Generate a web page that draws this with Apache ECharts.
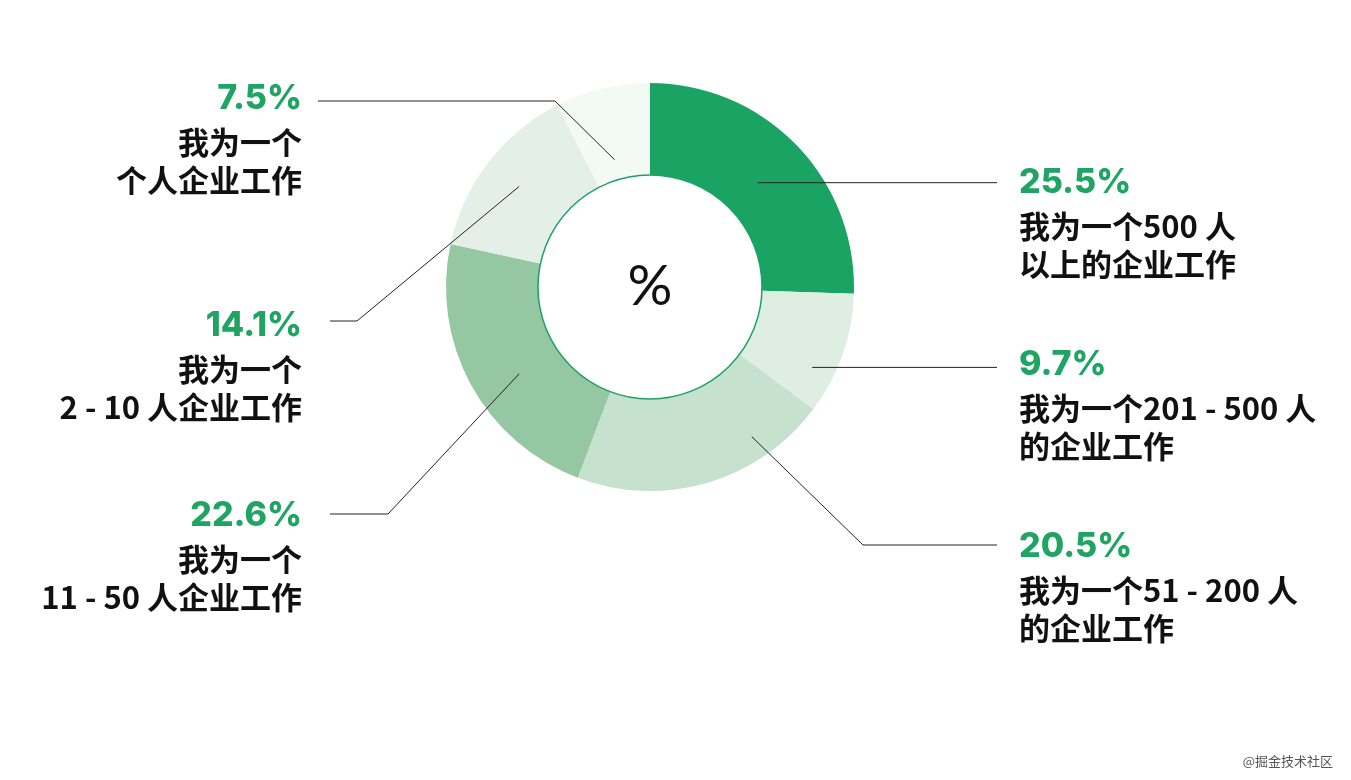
<!DOCTYPE html>
<html>
<head>
<meta charset="utf-8">
<script src="https://cdn.jsdelivr.net/npm/echarts@6/dist/echarts.min.js"></script>
<style>
  html, body { margin: 0; padding: 0; background: #fff; }
  #chart { width: 1351px; height: 780px; }
</style>
</head>
<body>
<div id="chart"></div>
<script>
// 数据
const categories = [
  '我为一个500 人\n以上的企业工作',
  '我为一个201 - 500 人\n的企业工作',
  '我为一个51 - 200 人\n的企业工作',
  '我为一个\n11 - 50 人企业工作',
  '我为一个\n2 - 10 人企业工作',
  '我为一个\n个人企业工作'
];
const values = [25.5, 9.7, 20.5, 22.6, 14.1, 7.5];
const sliceColors = ['#1ba364', '#deeee3', '#c6e1cd', '#95c7a2', '#e4f0e7', '#f3f9f5'];

// 引导线布局（像素）
const CX = 650, CY = 287, R_IN = 112, R_OUT = 204;
const anchorR = [150, 181, 181, 157, 165, 132];
const anchorShift = [0, 7, -18, -5, 0, -2];
const elbows = [null, null, [863, 545], [388, 514], [357, 321], [555, 101]];
const lineEndX = [997, 997, 997, 330, 330, 318];
const labelMidY = [183, 365, 547, 516, 326, 99];

const total = values.reduce((a, b) => a + b, 0);

function anchorPoint(i) {
  let cum = 0;
  for (let k = 0; k < i; k++) cum += values[k];
  const deg = (cum + values[i] / 2) / total * 360 + anchorShift[i];
  const rad = deg * Math.PI / 180;
  return [CX + anchorR[i] * Math.sin(rad), CY - anchorR[i] * Math.cos(rad)];
}

const chart = echarts.init(document.getElementById('chart'));

const pctFont = { fontFamily: 'Inter', fontWeight: 800, fontSize: 34, color: '#1fa463', lineHeight: 48 };
const txtFont = { fontFamily: 'Noto Sans CJK SC', fontWeight: 'bold', fontSize: 31, color: '#111', lineHeight: 38 };

const pieData = values.map((v, i) => ({
  name: categories[i],
  value: v,
  itemStyle: { color: sliceColors[i] }
}));

const option = {
  backgroundColor: '#fff',
  animation: false,
  graphic: [{
    type: 'text',
    right: 18,
    bottom: 12,
    style: { text: '@掘金技术社区', fontSize: 13, fill: '#555', fontFamily: 'Noto Sans CJK SC' }
  }],
  series: [
    // 环形
    {
      type: 'pie',
      center: [CX, CY],
      radius: [R_IN, R_OUT],
      startAngle: 90,
      silent: true,
      z: 1,
      data: pieData,
      label: { show: false },
      labelLine: { show: false }
    },
    // 透明层，只负责标签和引导线（画在环形上面）
    {
      type: 'pie',
      center: [CX, CY],
      radius: [R_IN, R_OUT],
      startAngle: 90,
      silent: true,
      z: 3,
      avoidLabelOverlap: false,
      data: pieData.map(d => ({ name: d.name, value: d.value, itemStyle: { color: 'rgba(0,0,0,0)' } })),
      label: {
        show: true,
        position: 'outside',
        formatter: p => {
          const side = p.dataIndex < 3 ? 'l' : 'r';
          const lines = p.name.split('\n');
          return '{p' + side + '|' + p.value + '%}\n{t' + side + '|' + lines[0] + '}\n{t' + side + '|' + lines[1] + '}';
        },
        rich: {
          pl: Object.assign({}, pctFont),
          tl: Object.assign({}, txtFont),
          pr: Object.assign({ align: 'right' }, pctFont),
          tr: Object.assign({ align: 'right' }, txtFont)
        }
      },
      labelLine: {
        show: true,
        lineStyle: { color: '#222', width: 1 }
      },
      labelLayout: params => {
        const i = params.dataIndex;
        const a = anchorPoint(i);
        let pts;
        if (elbows[i]) {
          pts = [a, elbows[i], [lineEndX[i], elbows[i][1]]];
        } else {
          pts = [a, [lineEndX[i], a[1]]];
        }
        const right = i < 3;
        return {
          x: right ? 1019 : 302,
          y: labelMidY[i] - 24,
          align: right ? 'left' : 'right',
          verticalAlign: 'top',
          labelLinePoints: pts
        };
      }
    },
    // 中心圆
    {
      type: 'pie',
      center: [CX, CY],
      radius: [0, R_IN],
      silent: true,
      z: 2,
      data: [{ value: 1, name: '%' }],
      itemStyle: { color: '#fff', borderColor: '#1ba364', borderWidth: 1.5 },
      label: {
        show: true,
        position: 'center',
        formatter: '%',
        fontFamily: 'Lato',
        fontWeight: 'normal',
        fontSize: 56,
        color: '#111'
      },
      labelLine: { show: false }
    }
  ]
};

chart.setOption(option);
window.addEventListener('resize', () => chart.resize());
</script>
</body>
</html>
